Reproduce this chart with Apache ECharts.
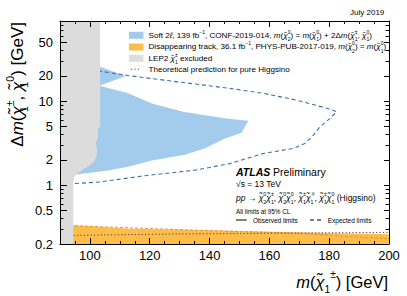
<!DOCTYPE html>
<html><head><meta charset="utf-8">
<script src="https://cdn.jsdelivr.net/npm/echarts@6/dist/echarts.min.js"></script>
<style>html,body{margin:0;padding:0;background:#fff}#c{width:407px;height:296px}</style>
</head><body><div id="c"></div>
<script>
// ---- axis ranges & ticks ----
const xRange = [90, 200];
const yRange = [0.2, 90];
const xTickValues = [100, 120, 140, 160, 180, 200];
const xMinorValues = [95, 105, 110, 115, 125, 130, 135, 145, 150, 155, 165, 170, 175, 185, 190, 195];
const yTickValues = [0.2, 0.5, 1, 2, 5, 10, 20, 50];
const yMinorValues = [0.3, 0.4, 0.6, 0.7, 0.8, 0.9, 3, 4, 6, 7, 8, 9, 30, 40, 60, 70, 80, 90];

// ---- Soft 2l observed excluded region (contour) ----
const softObsX = [102.4, 112.0, 103.2, 112.8, 120.7, 131.2, 138.5, 146.3, 153.0, 150.7, 145.2, 138.5, 131.8, 120.7, 112.8, 106.1, 100.0, 95.6, 93.3, 95.0, 100.0, 101.4, 101.4, 102.4];
const softObsY = [26.4, 19.9, 15.3, 12.4, 9.4, 7.5, 6.8, 6.2, 5.85, 4.2, 3.6, 2.75, 2.3, 1.97, 1.66, 1.5, 1.41, 1.34, 1.33, 1.51, 1.99, 2.6, 13.6, 15.6];
// ---- Soft 2l expected limit ----
const softExpX = [93.3, 103.4, 112.7, 129.5, 146.8, 158.0, 169.1, 180.3, 182.5, 180.3, 176.9, 174.7, 171.9, 168.0, 158.0, 146.8, 135.1, 118.4, 103.4, 95.0, 93.3];
const softExpY = [23.4, 22.8, 20.2, 17.0, 14.2, 12.4, 10.3, 8.05, 7.48, 6.24, 4.95, 3.94, 3.14, 2.74, 2.39, 1.81, 1.51, 1.30, 1.095, 1.048, 1.03];
// ---- Disappearing track observed (upper edge) ----
const dtObsX = [90, 95.0, 113.4, 131.8, 153.5, 176.9, 200];
const dtObsY = [0.334, 0.334, 0.303, 0.295, 0.283, 0.272, 0.261];
// ---- Disappearing track expected ----
const dtExpX = [90, 95.0, 131.8, 170.0, 182.0, 200];
const dtExpY = [0.33, 0.329, 0.295, 0.268, 0.25, 0.232];
// ---- Theory prediction (pure Higgsino) ----
const thX = [90, 131.8, 200];
const thY = [0.252, 0.264, 0.275];
// ---- LEP2 excluded region ----
const lepX = [90, 103.4, 103.4, 102.7, 102.7, 102.0, 102.4, 102.2, 101.7, 100.0, 97.4, 95.7, 94.7, 94.45, 94.45, 90];
const lepY = [90, 90, 4.9, 4.8, 3.6, 3.25, 2.6, 2.28, 1.99, 1.73, 1.51, 1.38, 1.245, 1.056, 0.2, 0.2];

const F = "'Liberation Sans', Arial, Helvetica, sans-serif";
const L = v => Math.log10(v);
const pairs = (xs, ys) => xs.map((x, i) => [x, L(ys[i])]);

function rich(s) {
  const lh = +(s * 1.5).toFixed(2), ss = +(s * 0.62).toFixed(2), slh = +(s * 0.66).toFixed(2);
  const base = {fontFamily: F, color: '#000'};
  return {
    n: Object.assign({}, base, {fontSize: s, lineHeight: lh}),
    i: Object.assign({}, base, {fontSize: s, lineHeight: lh, fontStyle: 'italic'}),
    b: Object.assign({}, base, {fontSize: s, lineHeight: lh, fontWeight: 'bold', fontStyle: 'italic'}),
    sp: Object.assign({}, base, {fontSize: ss, lineHeight: slh, verticalAlign: 'top'}),
    sb: Object.assign({}, base, {fontSize: ss, lineHeight: slh, verticalAlign: 'bottom'}),
    sbz: Object.assign({}, base, {fontSize: ss, lineHeight: slh, verticalAlign: 'bottom', width: 0.01})
  };
}
// chargino/neutralino symbol with stacked subscript (zero-advance) and superscript
const chi = (sup, sub) => '{i|χ̃}{sbz|' + sub + '}{sp|' + sup + '}';
// same symbol with subscript and superscript side by side
const chiFlat = (sup, sub) => '{i|χ̃}{sb|' + sub + '}{sp|' + sup + '}';

const txtSoft = '{n|Soft 2}{i|ℓ}{n|, 139 fb}{sp|−1}{n|, CONF-2019-014, }{i|m}{n|(}' + chi('0','2') + '{n|) = }{i|m}{n|(}' + chi('0','1') + '{n|) + 2Δ}{i|m}{n|(}' + chi('±','1') + '{n|, }' + chi('0','1') + '{n|)}';
const txtDT = '{n|Disappearing track, 36.1 fb}{sp|−1}{n|, PHYS-PUB-2017-019, }{i|m}{n|(}' + chi('0','2') + '{n|) = }{i|m}{n|(}' + chi('0','1') + '{n|)}';
const txtLEP = '{n|LEP2 }' + chi('±','1') + '{n| excluded}';
const txtTh = '{n|Theoretical prediction for pure Higgsino}';
const txtPP = '{i|pp}{n| → }' + chi('0','2') + chi('±','1') + '{n|, }' + chi('0','2') + chi('0','1') + '{n|, }' + chi('±','1') + chi('∓','1') + '{n|, }' + chi('±','1') + chi('0','1') + '{n| (Higgsino)}';
const txtYT = '{n|Δ}{i|m}{n|(}' + chi('±','1') + '{n|, }' + chi('0','1') + '{n|) [GeV]}';
const txtXT = '{i|m}{n|(}' + chiFlat('±','1') + '{n|) [GeV]}';

function polySeries(name, pts, color, z) {
  return {
    type: 'custom', name: name, z: z, silent: true, coordinateSystem: 'cartesian2d',
    xAxisIndex: 0, yAxisIndex: 0, itemStyle: {color: color}, data: pts, encode: {x: 0, y: 1},
    renderItem: function (params, api) {
      if (params.dataIndex !== 0) return null;
      return {type: 'polygon', shape: {points: pts.map(p => api.coord(p))}, style: {fill: color}};
    }
  };
}
const dtPoly = pairs(dtObsX, dtObsY).concat([[xRange[1], L(yRange[0])], [xRange[0], L(yRange[0])]]);

const yMin = L(yRange[0]), yMax = L(yRange[1]);
function xAx(pos, major) {
  const vals = major ? xTickValues : xMinorValues;
  return {
    type: 'value', min: xRange[0], max: xRange[1], position: pos, z: 10,
    axisLine: {show: major, onZero: false, lineStyle: {color: '#000', width: 1}},
    axisTick: {show: true, inside: true, length: major ? 6 : 3, customValues: vals, lineStyle: {color: '#000', width: 1}},
    axisLabel: (major && pos === 'bottom') ? {show: true, customValues: xTickValues, margin: 5, color: '#000', fontSize: 13, fontFamily: F} : {show: false},
    splitLine: {show: false}
  };
}
function yAx(pos, major) {
  return {
    type: 'value', min: yMin, max: yMax, position: pos, z: 10,
    axisLine: {show: major, onZero: false, lineStyle: {color: '#000', width: 1}},
    axisTick: {show: true, inside: true, length: major ? (pos === 'left' ? 7 : 5) : 3.5,
               customValues: (major ? yTickValues : yMinorValues).map(L), lineStyle: {color: '#000', width: 1}},
    axisLabel: (major && pos === 'left') ? {show: true, customValues: yTickValues.map(L), margin: 7, color: '#000', fontSize: 13, fontFamily: F,
        formatter: v => String(Number(Math.pow(10, v).toPrecision(2)))} : {show: false},
    splitLine: {show: false}
  };
}
const hidden = {axisLine: {show: false, onZero: false}, axisTick: {show: false}, axisLabel: {show: false}, splitLine: {show: false}};

const LF = 8.1;
function legendItem(name, top, text, extra) {
  return Object.assign({
    left: 129, top: top, padding: 0, itemWidth: 14.5, itemHeight: 7, orient: 'vertical',
    selectedMode: false, data: [name], formatter: () => text,
    textStyle: {fontSize: LF, fontFamily: F, color: '#000', lineHeight: 12.15, rich: rich(LF)}
  }, extra || {});
}

const option = {
  animation: false,
  backgroundColor: '#fff',
  grid: {left: 60, right: 18, top: 21, bottom: 52, containLabel: false, outerBoundsMode: 'none'},
  xAxis: [
    xAx('bottom', true), xAx('bottom', false), xAx('top', true), xAx('top', false),
    Object.assign({type: 'value', min: xRange[0], max: xRange[1], position: 'bottom', offset: 38,
      name: txtXT, nameLocation: 'end', nameGap: -1, nameMoveOverlap: false,
      nameTextStyle: {align: 'right', verticalAlign: 'middle', fontSize: 16.5, fontFamily: F, color: '#000', rich: rich(16.5)}}, hidden)
  ],
  yAxis: [
    yAx('left', true), yAx('left', false), yAx('right', true), yAx('right', false),
    Object.assign({type: 'value', min: yMin, max: yMax, position: 'left', offset: 43,
      name: txtYT, nameLocation: 'end', nameGap: -1, nameRotate: 90, nameMoveOverlap: false,
      nameTextStyle: {align: 'right', verticalAlign: 'middle', fontSize: 17, fontFamily: F, color: '#000', rich: rich(17)}}, hidden)
  ],
  legend: [
    legendItem('Soft 2l', 29.2, txtSoft, {icon: 'rect'}),
    legendItem('Disappearing track', 40.9, txtDT, {icon: 'rect'}),
    legendItem('LEP2', 52.2, txtLEP, {icon: 'rect'}),
    legendItem('Theory', 63.2, txtTh, {left: 131, itemWidth: 8, itemHeight: 1.2,
      data: [{name: 'Theory', icon: 'path://M0,0h1v1h-1zM3,0h1v1h-1zM6,0h1v1h-1z'}],
      textStyle: {fontSize: LF, fontFamily: F, color: '#000', lineHeight: 12.15, padding: [0, 0, 0, 4.5], rich: rich(LF)}})
  ],
  series: [
    polySeries('Soft 2l', pairs(softObsX, softObsY), '#a3ccec', 1),
    polySeries('Disappearing track', dtPoly, '#fdbd48', 1),
    {type: 'line', name: 'Soft 2l exp', data: pairs(softExpX, softExpY), symbol: 'none', z: 2, silent: true,
     lineStyle: {color: '#3c6ea5', width: 1.1, type: [4, 3]}, itemStyle: {color: '#3c6ea5'}},
    {type: 'line', name: 'DT exp', data: pairs(dtExpX, dtExpY), symbol: 'none', z: 2, silent: true,
     lineStyle: {color: '#e8903a', width: 1, type: [3, 2]}, itemStyle: {color: '#e8903a'}},
    {type: 'line', name: 'Theory', data: pairs(thX, thY), symbol: 'none', z: 3, silent: true,
     lineStyle: {color: '#444', width: 1, type: [1.2, 2.2]}, itemStyle: {color: '#444'}},
    polySeries('LEP2', pairs(lepX, lepY), '#dcdcdc', 5)
  ],
  graphic: [
    {type: 'text', x: 384.3, y: 12.7, style: {text: 'July 2019', fontSize: 8, fontFamily: F, fill: '#000', align: 'right', verticalAlign: 'middle'}},
    {type: 'text', x: 236, y: 171.7, style: {text: '{b|ATLAS}{n| Preliminary}', rich: rich(10.5), fontSize: 10.5, fontFamily: F, fill: '#000', align: 'left', verticalAlign: 'middle'}},
    {type: 'text', x: 236, y: 184.3, style: {text: '√s = 13 TeV', fontSize: 8.5, fontFamily: F, fill: '#000', align: 'left', verticalAlign: 'middle'}},
    {type: 'text', x: 236, y: 197.7, style: {text: txtPP, rich: rich(8.5), fontSize: 8.5, fontFamily: F, fill: '#000', align: 'left', verticalAlign: 'middle'}},
    {type: 'text', x: 236, y: 211, style: {text: 'All limits at 95% CL', fontSize: 6.3, fontFamily: F, fill: '#000', align: 'left', verticalAlign: 'middle'}},
    {type: 'line', shape: {x1: 236, y1: 220, x2: 246.7, y2: 220}, style: {stroke: '#000', lineWidth: 1}},
    {type: 'text', x: 253, y: 220, style: {text: 'Observed limits', fontSize: 6.5, fontFamily: F, fill: '#000', align: 'left', verticalAlign: 'middle'}},
    {type: 'line', shape: {x1: 310, y1: 220, x2: 321.7, y2: 220}, style: {stroke: '#000', lineWidth: 1, lineDash: [4, 3]}},
    {type: 'text', x: 327.7, y: 220, style: {text: 'Expected limits', fontSize: 6.5, fontFamily: F, fill: '#000', align: 'left', verticalAlign: 'middle'}}
  ]
};
const chart = echarts.init(document.getElementById('c'), null, {renderer: 'svg'});
chart.setOption(option);
</script>
</body></html>
